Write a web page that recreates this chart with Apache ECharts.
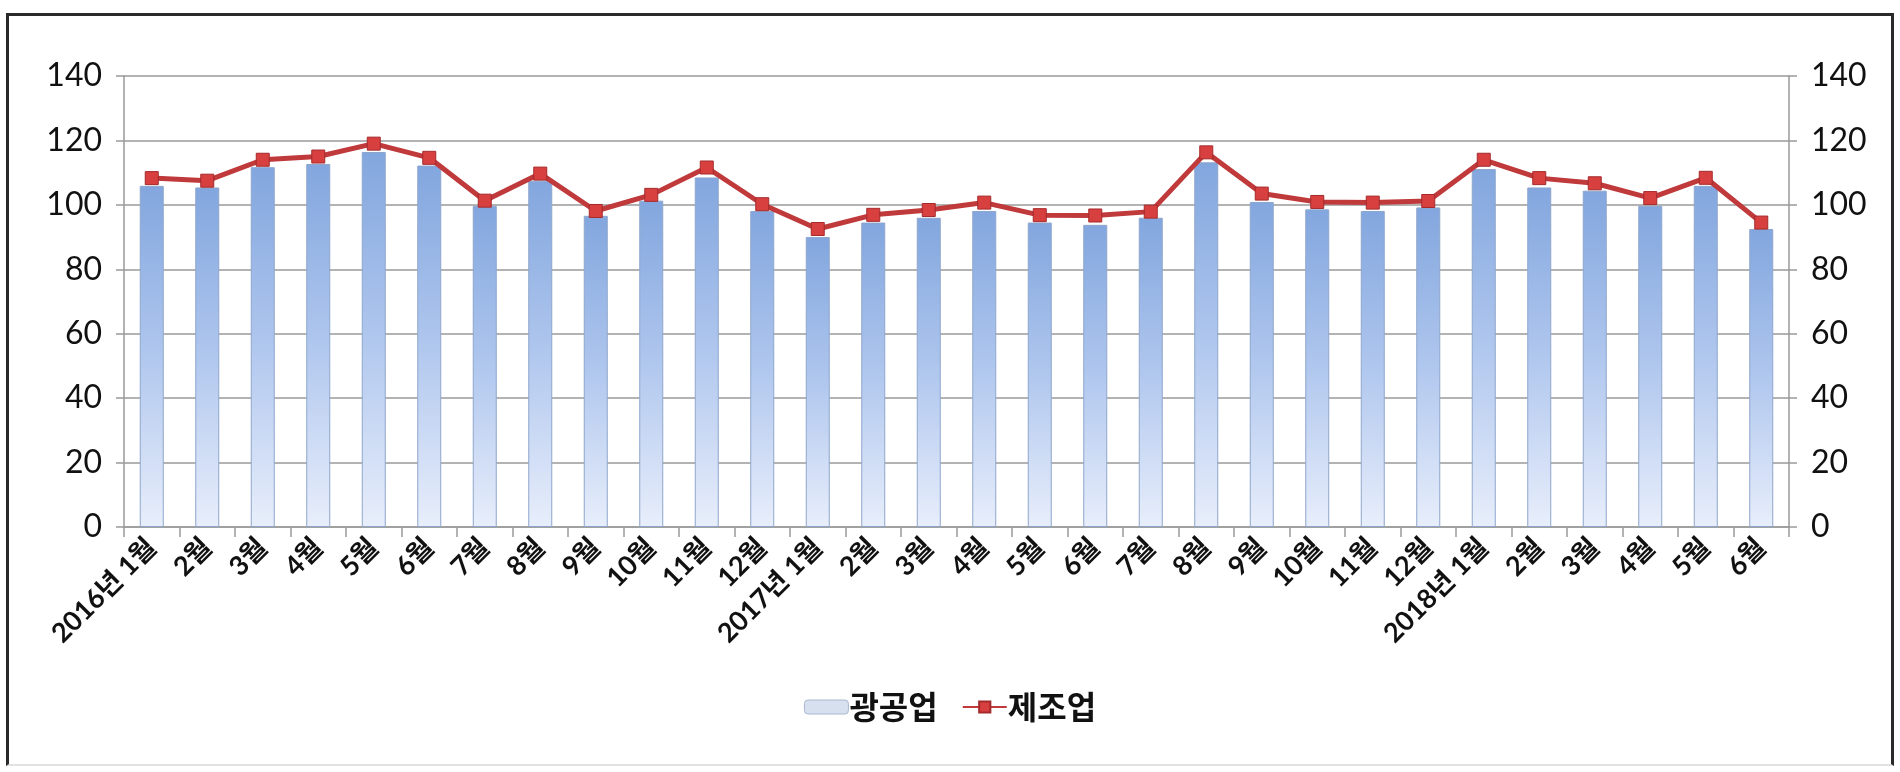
<!DOCTYPE html>
<html>
<head>
<meta charset="utf-8">
<script src="https://cdn.jsdelivr.net/npm/echarts@6/dist/echarts.min.js"></script>
<style>
  html, body { margin: 0; padding: 0; background: #fff; }
  #chart { width: 1900px; height: 772px; }
  .frame {
    position: absolute; left: 6px; top: 13px; width: 1882px; height: 748px;
    border: 3px solid #2a2a2a; border-bottom: 2px solid #e2e2e2;
    pointer-events: none;
  }
</style>
</head>
<body>
<div id="chart"></div>
<div class="frame"></div>
<script>
// categories (month labels)
const months = [
  '2016년 1월', '2월', '3월', '4월', '5월', '6월', '7월', '8월', '9월', '10월', '11월', '12월',
  '2017년 1월', '2월', '3월', '4월', '5월', '6월', '7월', '8월', '9월', '10월', '11월', '12월',
  '2018년 1월', '2월', '3월', '4월', '5월', '6월'
]
// 광공업 (bars)
const mining = [
  105.9, 105.4, 111.7, 112.7, 116.4, 112.2, 99.7, 107.5, 96.6, 101.3, 108.5, 98.1,
  90.0, 94.5, 96.0, 98.1, 94.5, 93.8, 96.0, 113.2, 100.9, 98.6, 98.1, 99.2,
  111.1, 105.4, 104.4, 99.7, 105.9, 92.5
]
// 제조업 (line)
const manufacturing = [
  108.3, 107.5, 114.0, 115.0, 119.0, 114.6, 101.3, 109.7, 98.1, 103.1, 111.6, 100.2,
  92.5, 96.9, 98.4, 100.7, 96.8, 96.7, 97.9, 116.3, 103.5, 100.9, 100.7, 101.2,
  114.0, 108.3, 106.7, 102.1, 108.4, 94.5
]
const yMin = 0
const yMax = 140
const yStep = 20

const font = "Lato, 'Noto Sans CJK KR', sans-serif"

let chart = echarts.init(document.getElementById('chart'))

let yAxisBase = {
  type: 'value',
  min: yMin,
  max: yMax,
  interval: yStep,
  axisLine: { show: true, lineStyle: { color: '#9a9a9a', width: 1.5 } },
  axisTick: { show: true, length: 8, lineStyle: { color: '#9a9a9a', width: 1.5 } },
  splitLine: { show: true, lineStyle: { color: '#9a9a9a', width: 1.5 } },
  axisLabel: { color: '#111', fontSize: 32, fontFamily: font, margin: 22 }
}

let option = {
  animation: false,
  grid: {
    left: 124,
    right: 111,
    top: 76,
    bottom: 245
  },
  legend: {
    bottom: 44,
    left: 'center',
    itemWidth: 44,
    itemHeight: 14,
    itemGap: 24,
    textStyle: { fontSize: 32, fontWeight: 'bold', color: '#111', fontFamily: "'Noto Sans CJK KR', sans-serif", padding: [0, 0, 0, -4] },
    data: [
      { name: '광공업', itemStyle: { color: '#d6e0ef', borderColor: '#aab8cf', borderWidth: 1 } },
      { name: '제조업' }
    ]
  },
  xAxis: {
    type: 'category',
    data: months,
    boundaryGap: true,
    axisLine: { show: true, lineStyle: { color: '#9a9a9a', width: 1.5 } },
    axisTick: { show: true, interval: 0, length: 10, lineStyle: { color: '#9a9a9a', width: 1.5 } },
    axisLabel: {
      interval: 0,
      rotate: 45,
      margin: 16,
      color: '#111',
      fontSize: 27,
      fontWeight: 'bold',
      fontFamily: font
    }
  },
  yAxis: [
    Object.assign({}, yAxisBase, { position: 'left' }),
    Object.assign({}, yAxisBase, { position: 'right', splitLine: { show: false } })
  ],
  series: [
    {
      name: '광공업',
      type: 'bar',
      data: mining,
      barWidth: 24,
      itemStyle: {
        color: new echarts.graphic.LinearGradient(0, 0, 0, 1, [
          { offset: 0, color: '#82a6de' },
          { offset: 0.5, color: '#b0c7ee' },
          { offset: 1, color: '#e8eefb' }
        ]),
        borderColor: '#8fa6cc',
        borderWidth: 1
      }
    },
    {
      name: '제조업',
      type: 'line',
      yAxisIndex: 1,
      data: manufacturing,
      symbol: 'rect',
      symbolSize: 13,
      lineStyle: { color: '#c0393b', width: 5 },
      itemStyle: { color: '#d8403f', borderColor: '#a52a2c', borderWidth: 1 }
    }
  ]
}

chart.setOption(option)
</script>
</body>
</html>
